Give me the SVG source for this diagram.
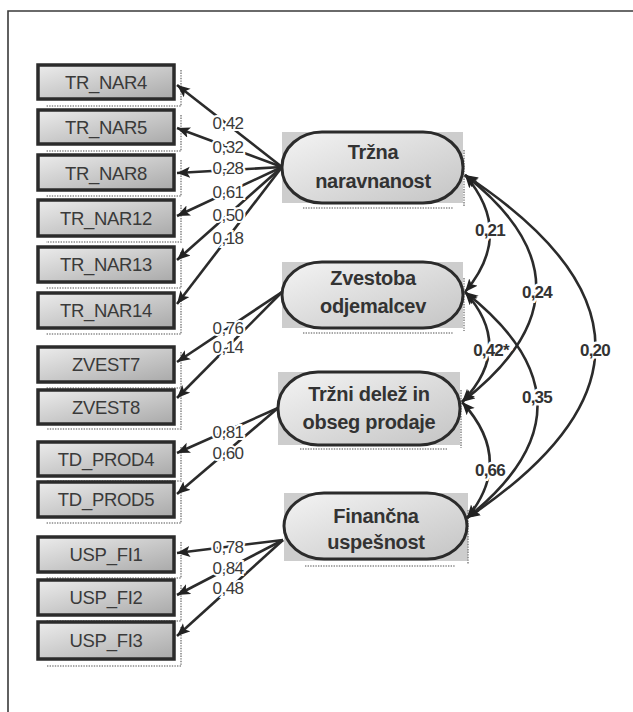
<svg xmlns="http://www.w3.org/2000/svg" width="633" height="712" viewBox="0 0 633 712">
  <style>
    .frame { stroke: #3a3a3a; stroke-width: 1.6; fill: none; }
    .obs rect.box { fill: url(#boxFill); stroke: #2b2b2b; stroke-width: 3.5; }
    .obs .shadow { fill: none; stroke: #8a8a8a; stroke-width: 1.6; stroke-dasharray: 1.4 1.2; }
    .obs text { font-family: "Liberation Sans", Arial, sans-serif; font-size: 18.5px; letter-spacing: -0.3px; fill: #3a3a3a; text-anchor: middle; }
    .lat .back { fill: #cdcdcd; }
    .lat .shape { fill: url(#latFill); stroke: #2b2b2b; stroke-width: 3; }
    .lat .shadow { fill: none; stroke: #8a8a8a; stroke-width: 1.6; stroke-dasharray: 1.4 1.2; }
    .lat text { font-family: "Liberation Sans", Arial, sans-serif; font-size: 20px; letter-spacing: -0.3px; font-weight: bold; fill: #333; text-anchor: middle; }
    .path { stroke: #2b2b2b; stroke-width: 2.6; fill: none; marker-end: url(#head); }
    .cov { stroke: #2b2b2b; stroke-width: 2.6; fill: none; marker-start: url(#head); marker-end: url(#head); }
    .load { font-family: "Liberation Sans", Arial, sans-serif; font-size: 17px; letter-spacing: -0.5px; fill: #3a3a3a; text-anchor: middle; stroke: #fff; stroke-width: 4; paint-order: stroke; }
    .corr { font-family: "Liberation Sans", Arial, sans-serif; font-size: 17px; letter-spacing: -0.8px; font-weight: bold; fill: #333; text-anchor: middle; stroke: #fff; stroke-width: 5; paint-order: stroke; }
  </style>
  <defs>
    <linearGradient id="boxFill" x1="0" y1="0" x2="1" y2="1">
      <stop offset="0" stop-color="#ececec"/>
      <stop offset="1" stop-color="#a9a9a9"/>
    </linearGradient>
    <linearGradient id="latFill" x1="0" y1="0" x2="1" y2="1">
      <stop offset="0" stop-color="#f4f4f4"/>
      <stop offset="1" stop-color="#c4c4c4"/>
    </linearGradient>
    <marker id="head" markerUnits="userSpaceOnUse" markerWidth="16" markerHeight="12" refX="13" refY="5.5" orient="auto-start-reverse">
      <path d="M0,0 L13,5.5 L0,11 L3,5.5 z" fill="#222"/>
    </marker>
  </defs>

  <rect width="633" height="712" fill="#fff"/>
  <path class="frame" d="M8,712 L8,11 L633,11"/>

  <!-- observed indicators -->
  <g class="obs">
    <g id="tr_nar4"><path class="shadow" d="M181,70 V106 H46"/><rect class="box" x="38" y="65" width="136" height="34"/><text x="106" y="89">TR_NAR4</text></g>
    <g id="tr_nar5"><path class="shadow" d="M181,115 V151 H46"/><rect class="box" x="38" y="110" width="136" height="34"/><text x="106" y="134">TR_NAR5</text></g>
    <g id="tr_nar8"><path class="shadow" d="M181,160 V196 H46"/><rect class="box" x="38" y="155" width="136" height="35"/><text x="106" y="180">TR_NAR8</text></g>
    <g id="tr_nar12"><path class="shadow" d="M181,205 V242 H46"/><rect class="box" x="38" y="200" width="136" height="36"/><text x="106" y="225">TR_NAR12</text></g>
    <g id="tr_nar13"><path class="shadow" d="M181,252 V288 H46"/><rect class="box" x="38" y="247" width="136" height="35"/><text x="106" y="271">TR_NAR13</text></g>
    <g id="tr_nar14"><path class="shadow" d="M181,298 V334 H46"/><rect class="box" x="38" y="293" width="136" height="35"/><text x="106" y="317">TR_NAR14</text></g>
    <g id="zvest7"><path class="shadow" d="M181,352 V388 H46"/><rect class="box" x="38" y="347" width="136" height="35"/><text x="106" y="371">ZVEST7</text></g>
    <g id="zvest8"><path class="shadow" d="M181,395 V429 H46"/><rect class="box" x="38" y="390" width="136" height="34"/><text x="106" y="414">ZVEST8</text></g>
    <g id="td_prod4"><path class="shadow" d="M181,447 V481 H46"/><rect class="box" x="38" y="442" width="136" height="34"/><text x="106" y="466">TD_PROD4</text></g>
    <g id="td_prod5"><path class="shadow" d="M181,487 V523 H46"/><rect class="box" x="38" y="482" width="136" height="35"/><text x="106" y="506">TD_PROD5</text></g>
    <g id="usp_fi1"><path class="shadow" d="M181,542 V578 H46"/><rect class="box" x="38" y="537" width="136" height="35"/><text x="106" y="561">USP_FI1</text></g>
    <g id="usp_fi2"><path class="shadow" d="M181,585 V621 H46"/><rect class="box" x="38" y="580" width="136" height="35"/><text x="106" y="604">USP_FI2</text></g>
    <g id="usp_fi3"><path class="shadow" d="M181,627 V666 H46"/><rect class="box" x="38" y="622" width="136" height="37"/><text x="106" y="647">USP_FI3</text></g>
  </g>

  <!-- latent constructs -->
  <g class="lat">
    <g id="trzna_naravnanost">
      <rect class="back" x="282" y="132" width="181" height="71"/>
      <path class="shadow" d="M464,150 V206 M303,208 H453"/>
      <rect class="shape" x="282" y="132" width="181" height="71" rx="40" ry="35"/>
      <text x="373" y="159">Tržna</text>
      <text x="373" y="188">naravnanost</text>
    </g>
    <g id="zvestoba_odjemalcev">
      <rect class="back" x="282" y="262" width="181" height="66"/>
      <path class="shadow" d="M464,278 V331 M303,333 H453"/>
      <rect class="shape" x="282" y="262" width="181" height="66" rx="40" ry="33"/>
      <text x="373" y="285">Zvestoba</text>
      <text x="373" y="313">odjemalcev</text>
    </g>
    <g id="trzni_delez">
      <rect class="back" x="278" y="372" width="182" height="73"/>
      <path class="shadow" d="M461,390 V448 M300,449 H448"/>
      <rect class="shape" x="278" y="372" width="182" height="73" rx="40" ry="36"/>
      <text x="369" y="401">Tržni delež in</text>
      <text x="369" y="429">obseg prodaje</text>
    </g>
    <g id="financna_uspesnost">
      <rect class="back" x="284" y="493" width="184" height="68"/>
      <path class="shadow" d="M468,510 V564 M305,566 H455"/>
      <rect class="shape" x="284" y="493" width="183" height="66" rx="40" ry="33"/>
      <text x="376" y="523">Finančna</text>
      <text x="376" y="549">uspešnost</text>
    </g>
  </g>

  <!-- connectors: loadings and correlations -->
  <g id="connectors">
    <line class="path" x1="282" y1="167" x2="177" y2="85"/>
    <line class="path" x1="282" y1="167" x2="177" y2="128"/>
    <line class="path" x1="282" y1="167" x2="177" y2="173"/>
    <line class="path" x1="282" y1="167" x2="177" y2="216"/>
    <line class="path" x1="282" y1="167" x2="177" y2="260"/>
    <line class="path" x1="282" y1="167" x2="177" y2="304"/>

    <line class="path" x1="282" y1="292" x2="177" y2="362"/>
    <line class="path" x1="282" y1="292" x2="177" y2="398"/>

    <line class="path" x1="278" y1="408" x2="177" y2="453"/>
    <line class="path" x1="278" y1="408" x2="177" y2="494"/>

    <line class="path" x1="283" y1="540" x2="177" y2="553"/>
    <line class="path" x1="283" y1="540" x2="177" y2="595"/>
    <line class="path" x1="283" y1="540" x2="177" y2="636"/>

    <path class="cov" d="M465,175 Q515,233 465,292"/>
    <path class="cov" d="M465,175 Q609,288 462,402"/>
    <path class="cov" d="M465,175 Q725,346 467,518"/>
    <path class="cov" d="M465,292 Q515,347 462,402"/>
    <path class="cov" d="M465,292 Q609,405 467,518"/>
    <path class="cov" d="M462,402 Q515,460 467,518"/>

    <text class="load" x="228" y="129">0,42</text>
    <text class="load" x="228" y="153">0,32</text>
    <text class="load" x="228" y="174">0,28</text>
    <text class="load" x="228" y="198">0,61</text>
    <text class="load" x="228" y="221">0,50</text>
    <text class="load" x="228" y="244">0,18</text>
    <text class="load" x="228" y="334">0,76</text>
    <text class="load" x="228" y="353">0,14</text>
    <text class="load" x="228" y="438">0,81</text>
    <text class="load" x="228" y="459">0,60</text>
    <text class="load" x="228" y="553">0,78</text>
    <text class="load" x="228" y="574">0,84</text>
    <text class="load" x="228" y="594">0,48</text>

    <text class="corr" x="490" y="236">0,21</text>
    <text class="corr" x="537" y="298">0,24</text>
    <text class="corr" x="595" y="356">0,20</text>
    <text class="corr" x="491" y="356">0,42*</text>
    <text class="corr" x="537" y="403">0,35</text>
    <text class="corr" x="490" y="476">0,66</text>
  </g>
</svg>
